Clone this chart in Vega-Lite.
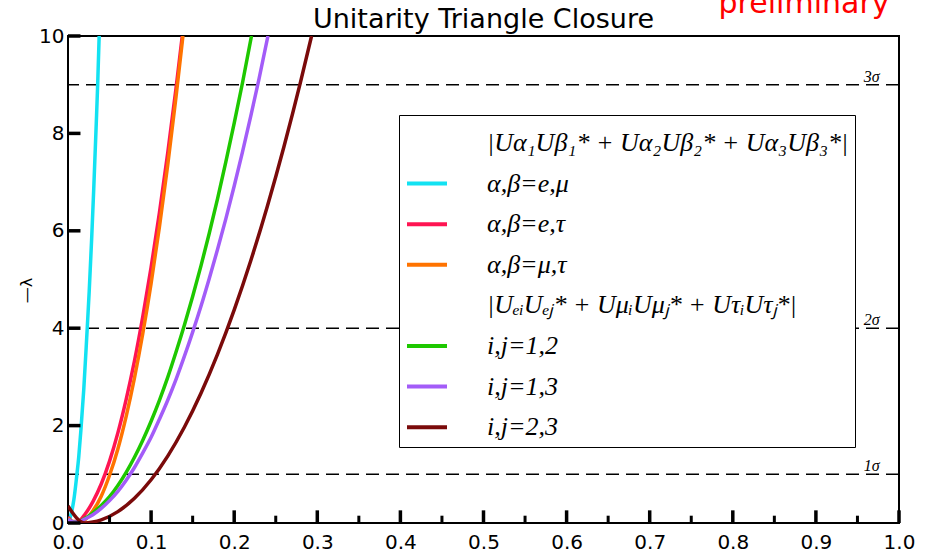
{
  "$schema": "https://vega.github.io/schema/vega-lite/v6.json",
  "width": 831,
  "height": 487,
  "autosize": {"type": "none"},
  "padding": {"left": 68, "top": 36, "right": 37, "bottom": 32},
  "background": "white",
  "title": {
    "text": "Unitarity Triangle Closure",
    "font": "DejaVu Sans",
    "fontSize": 27,
    "fontWeight": "normal",
    "color": "black",
    "frame": "group",
    "offset": 4,
    "dy": 49
  },
  "config": {
    "view": {"stroke": "black", "strokeWidth": 2},
    "axis": {
      "grid": false,
      "ticks": false,
      "domain": false,
      "labelColor": "black",
      "labelFont": "DejaVu Sans",
      "labelFontSize": 20,
      "labelFlush": false,
      "labelOverlap": false
    }
  },
  "datasets": {
    "levels": [
      {"y": 1, "label": "1σ"},
      {"y": 4, "label": "2σ"},
      {"y": 9, "label": "3σ"}
    ],
    "xMajor": [
      {"v": 0.1}, {"v": 0.2}, {"v": 0.3}, {"v": 0.4}, {"v": 0.5},
      {"v": 0.6}, {"v": 0.7}, {"v": 0.8}, {"v": 0.9}, {"v": 1.0}
    ],
    "xMinor": [
      {"v": 0.05}, {"v": 0.15}, {"v": 0.25}, {"v": 0.35}, {"v": 0.45},
      {"v": 0.55}, {"v": 0.65}, {"v": 0.75}, {"v": 0.85}, {"v": 0.95}
    ],
    "yMajor": [
      {"v": 0}, {"v": 2}, {"v": 4}, {"v": 6}, {"v": 8}, {"v": 10}
    ],
    "curves": [
      {"series": "α,β=e,μ", "x": 0.0, "y": 0.015},
      {"series": "α,β=e,μ", "x": 0.002, "y": 0.08},
      {"series": "α,β=e,μ", "x": 0.004, "y": 0.2},
      {"series": "α,β=e,μ", "x": 0.007, "y": 0.47},
      {"series": "α,β=e,μ", "x": 0.0104, "y": 0.95},
      {"series": "α,β=e,μ", "x": 0.013, "y": 1.37},
      {"series": "α,β=e,μ", "x": 0.0155, "y": 1.9},
      {"series": "α,β=e,μ", "x": 0.019, "y": 2.75},
      {"series": "α,β=e,μ", "x": 0.0225, "y": 3.8},
      {"series": "α,β=e,μ", "x": 0.0255, "y": 4.75},
      {"series": "α,β=e,μ", "x": 0.0285, "y": 5.85},
      {"series": "α,β=e,μ", "x": 0.031, "y": 6.87},
      {"series": "α,β=e,μ", "x": 0.034, "y": 8.2},
      {"series": "α,β=e,μ", "x": 0.0357, "y": 9.0},
      {"series": "α,β=e,μ", "x": 0.0375, "y": 10.0},

      {"series": "α,β=e,τ", "x": 0.0, "y": 0.12},
      {"series": "α,β=e,τ", "x": 0.006, "y": 0.03},
      {"series": "α,β=e,τ", "x": 0.012, "y": 0.03},
      {"series": "α,β=e,τ", "x": 0.02, "y": 0.17},
      {"series": "α,β=e,τ", "x": 0.03, "y": 0.44},
      {"series": "α,β=e,τ", "x": 0.04, "y": 0.8},
      {"series": "α,β=e,τ", "x": 0.05, "y": 1.27},
      {"series": "α,β=e,τ", "x": 0.06, "y": 1.85},
      {"series": "α,β=e,τ", "x": 0.07, "y": 2.54},
      {"series": "α,β=e,τ", "x": 0.08, "y": 3.33},
      {"series": "α,β=e,τ", "x": 0.09, "y": 4.24},
      {"series": "α,β=e,τ", "x": 0.1, "y": 5.25},
      {"series": "α,β=e,τ", "x": 0.11, "y": 6.37},
      {"series": "α,β=e,τ", "x": 0.12, "y": 7.6},
      {"series": "α,β=e,τ", "x": 0.13, "y": 8.93},
      {"series": "α,β=e,τ", "x": 0.1375, "y": 10.0},

      {"series": "α,β=μ,τ", "x": 0.0, "y": 0.1},
      {"series": "α,β=μ,τ", "x": 0.006, "y": 0.02},
      {"series": "α,β=μ,τ", "x": 0.012, "y": 0.01},
      {"series": "α,β=μ,τ", "x": 0.02, "y": 0.06},
      {"series": "α,β=μ,τ", "x": 0.03, "y": 0.25},
      {"series": "α,β=μ,τ", "x": 0.04, "y": 0.55},
      {"series": "α,β=μ,τ", "x": 0.05, "y": 0.98},
      {"series": "α,β=μ,τ", "x": 0.06, "y": 1.52},
      {"series": "α,β=μ,τ", "x": 0.07, "y": 2.19},
      {"series": "α,β=μ,τ", "x": 0.08, "y": 2.98},
      {"series": "α,β=μ,τ", "x": 0.09, "y": 3.89},
      {"series": "α,β=μ,τ", "x": 0.1, "y": 4.92},
      {"series": "α,β=μ,τ", "x": 0.11, "y": 6.08},
      {"series": "α,β=μ,τ", "x": 0.12, "y": 7.35},
      {"series": "α,β=μ,τ", "x": 0.13, "y": 8.75},
      {"series": "α,β=μ,τ", "x": 0.1383, "y": 10.0},

      {"series": "i,j=1,2", "x": 0.0, "y": 0.08},
      {"series": "i,j=1,2", "x": 0.006, "y": 0.02},
      {"series": "i,j=1,2", "x": 0.012, "y": 0.02},
      {"series": "i,j=1,2", "x": 0.02, "y": 0.09},
      {"series": "i,j=1,2", "x": 0.03, "y": 0.21},
      {"series": "i,j=1,2", "x": 0.04, "y": 0.36},
      {"series": "i,j=1,2", "x": 0.05, "y": 0.54},
      {"series": "i,j=1,2", "x": 0.06, "y": 0.77},
      {"series": "i,j=1,2", "x": 0.07, "y": 1.04},
      {"series": "i,j=1,2", "x": 0.08, "y": 1.35},
      {"series": "i,j=1,2", "x": 0.09, "y": 1.7},
      {"series": "i,j=1,2", "x": 0.1, "y": 2.09},
      {"series": "i,j=1,2", "x": 0.11, "y": 2.52},
      {"series": "i,j=1,2", "x": 0.12, "y": 2.99},
      {"series": "i,j=1,2", "x": 0.13, "y": 3.51},
      {"series": "i,j=1,2", "x": 0.14, "y": 4.06},
      {"series": "i,j=1,2", "x": 0.15, "y": 4.65},
      {"series": "i,j=1,2", "x": 0.16, "y": 5.28},
      {"series": "i,j=1,2", "x": 0.17, "y": 5.95},
      {"series": "i,j=1,2", "x": 0.18, "y": 6.66},
      {"series": "i,j=1,2", "x": 0.19, "y": 7.42},
      {"series": "i,j=1,2", "x": 0.2, "y": 8.21},
      {"series": "i,j=1,2", "x": 0.21, "y": 9.04},
      {"series": "i,j=1,2", "x": 0.2208, "y": 10.0},

      {"series": "i,j=1,3", "x": 0.0, "y": 0.08},
      {"series": "i,j=1,3", "x": 0.006, "y": 0.02},
      {"series": "i,j=1,3", "x": 0.012, "y": 0.02},
      {"series": "i,j=1,3", "x": 0.02, "y": 0.08},
      {"series": "i,j=1,3", "x": 0.03, "y": 0.17},
      {"series": "i,j=1,3", "x": 0.04, "y": 0.3},
      {"series": "i,j=1,3", "x": 0.05, "y": 0.46},
      {"series": "i,j=1,3", "x": 0.06, "y": 0.65},
      {"series": "i,j=1,3", "x": 0.07, "y": 0.88},
      {"series": "i,j=1,3", "x": 0.08, "y": 1.14},
      {"series": "i,j=1,3", "x": 0.09, "y": 1.44},
      {"series": "i,j=1,3", "x": 0.1, "y": 1.76},
      {"series": "i,j=1,3", "x": 0.11, "y": 2.13},
      {"series": "i,j=1,3", "x": 0.12, "y": 2.52},
      {"series": "i,j=1,3", "x": 0.13, "y": 2.95},
      {"series": "i,j=1,3", "x": 0.14, "y": 3.42},
      {"series": "i,j=1,3", "x": 0.15, "y": 3.92},
      {"series": "i,j=1,3", "x": 0.16, "y": 4.45},
      {"series": "i,j=1,3", "x": 0.17, "y": 5.02},
      {"series": "i,j=1,3", "x": 0.18, "y": 5.62},
      {"series": "i,j=1,3", "x": 0.19, "y": 6.25},
      {"series": "i,j=1,3", "x": 0.2, "y": 6.92},
      {"series": "i,j=1,3", "x": 0.21, "y": 7.62},
      {"series": "i,j=1,3", "x": 0.22, "y": 8.36},
      {"series": "i,j=1,3", "x": 0.23, "y": 9.13},
      {"series": "i,j=1,3", "x": 0.2406, "y": 10.0},

      {"series": "i,j=2,3", "x": 0.0, "y": 0.35},
      {"series": "i,j=2,3", "x": 0.005, "y": 0.22},
      {"series": "i,j=2,3", "x": 0.01, "y": 0.11},
      {"series": "i,j=2,3", "x": 0.015, "y": 0.03},
      {"series": "i,j=2,3", "x": 0.02, "y": 0.0},
      {"series": "i,j=2,3", "x": 0.03, "y": 0.02},
      {"series": "i,j=2,3", "x": 0.04, "y": 0.064},
      {"series": "i,j=2,3", "x": 0.06, "y": 0.233},
      {"series": "i,j=2,3", "x": 0.08, "y": 0.508},
      {"series": "i,j=2,3", "x": 0.1, "y": 0.888},
      {"series": "i,j=2,3", "x": 0.12, "y": 1.374},
      {"series": "i,j=2,3", "x": 0.14, "y": 1.966},
      {"series": "i,j=2,3", "x": 0.16, "y": 2.664},
      {"series": "i,j=2,3", "x": 0.18, "y": 3.467},
      {"series": "i,j=2,3", "x": 0.2, "y": 4.376},
      {"series": "i,j=2,3", "x": 0.22, "y": 5.391},
      {"series": "i,j=2,3", "x": 0.24, "y": 6.511},
      {"series": "i,j=2,3", "x": 0.26, "y": 7.737},
      {"series": "i,j=2,3", "x": 0.28, "y": 9.068},
      {"series": "i,j=2,3", "x": 0.2931, "y": 10.0}
    ]
  },
  "layer": [
    {
      "data": {"name": "levels"},
      "mark": {"type": "rule", "color": "black", "strokeWidth": 1.6, "strokeDash": [13, 7]},
      "encoding": {
        "y": {"field": "y", "type": "quantitative", "scale": {"domain": [0, 10]}}
      }
    },
    {
      "data": {"name": "levels"},
      "mark": {
        "type": "text",
        "font": "Liberation Serif",
        "fontStyle": "italic",
        "fontSize": 16,
        "color": "black",
        "align": "center",
        "baseline": "alphabetic",
        "dy": -3
      },
      "encoding": {
        "x": {"datum": 0.967, "type": "quantitative", "scale": {"domain": [0, 1]}},
        "y": {"field": "y", "type": "quantitative", "scale": {"domain": [0, 10]}},
        "text": {"field": "label"}
      }
    },
    {
      "data": {"name": "curves"},
      "mark": {"type": "line", "interpolate": "monotone", "strokeWidth": 3.5, "clip": true},
      "encoding": {
        "x": {
          "field": "x",
          "type": "quantitative",
          "scale": {"domain": [0, 1], "nice": false},
          "axis": {
            "title": null,
            "values": [0, 0.1, 0.2, 0.3, 0.4, 0.5, 0.6, 0.7, 0.8, 0.9, 1.0],
            "format": ".1f",
            "labelPadding": 9
          }
        },
        "y": {
          "field": "y",
          "type": "quantitative",
          "scale": {"domain": [0, 10], "nice": false},
          "axis": {
            "title": "—λ",
            "titleFont": "DejaVu Sans",
            "titleFontSize": 16,
            "titleFontWeight": "normal",
            "titleColor": "black",
            "titlePadding": 4,
            "titleY": 254,
            "values": [0, 2, 4, 6, 8, 10],
            "labelPadding": 4
          }
        },
        "color": {
          "field": "series",
          "type": "nominal",
          "scale": {
            "domain": [
              "|Uα₁Uβ₁* + Uα₂Uβ₂* + Uα₃Uβ₃*|",
              "α,β=e,μ",
              "α,β=e,τ",
              "α,β=μ,τ",
              "|UₑᵢUₑⱼ* + UμᵢUμⱼ* + UτᵢUτⱼ*|",
              "i,j=1,2",
              "i,j=1,3",
              "i,j=2,3"
            ],
            "range": [
              "rgba(0,0,0,0)",
              "#12e2f2",
              "#ff1452",
              "#ff7300",
              "rgba(0,0,0,0)",
              "#1ec800",
              "#a35cf8",
              "#7a0a0a"
            ]
          },
          "legend": {
            "orient": "none",
            "legendX": 331,
            "legendY": 79,
            "title": null,
            "symbolType": "stroke",
            "symbolStrokeWidth": 4,
            "symbolSize": 1600,
            "labelFont": "Liberation Serif",
            "labelFontStyle": "italic",
            "labelFontSize": 26,
            "labelColor": "black",
            "labelOffset": 38,
            "labelLimit": 600,
            "rowPadding": 5.6,
            "padding": 6,
            "strokeColor": "black",
            "fillColor": "white",
            "cornerRadius": 0
          }
        }
      }
    },
    {
      "data": {"name": "xMajor"},
      "mark": {"type": "rule", "color": "black", "strokeWidth": 3.5, "strokeCap": "butt"},
      "encoding": {
        "x": {"field": "v", "type": "quantitative", "scale": {"domain": [0, 1]}},
        "y": {"datum": 0, "type": "quantitative", "scale": {"domain": [0, 10]}},
        "y2": {"datum": 0.26}
      }
    },
    {
      "data": {"name": "xMinor"},
      "mark": {"type": "rule", "color": "black", "strokeWidth": 3, "strokeCap": "butt"},
      "encoding": {
        "x": {"field": "v", "type": "quantitative", "scale": {"domain": [0, 1]}},
        "y": {"datum": 0, "type": "quantitative", "scale": {"domain": [0, 10]}},
        "y2": {"datum": 0.15}
      }
    },
    {
      "data": {"name": "yMajor"},
      "mark": {"type": "rule", "color": "black", "strokeWidth": 3.5, "strokeCap": "butt"},
      "encoding": {
        "y": {"field": "v", "type": "quantitative", "scale": {"domain": [0, 10]}},
        "x": {"datum": 0, "type": "quantitative", "scale": {"domain": [0, 1]}},
        "x2": {"datum": 0.015}
      }
    },
    {
      "data": {"values": [{"note": "preliminary"}]},
      "mark": {
        "type": "text",
        "font": "DejaVu Sans",
        "fontSize": 30,
        "color": "#ff0000",
        "align": "center",
        "baseline": "alphabetic"
      },
      "encoding": {
        "x": {"datum": 0.8857, "type": "quantitative", "scale": {"domain": [0, 1]}},
        "y": {"datum": 10.467, "type": "quantitative", "scale": {"domain": [0, 10]}},
        "text": {"field": "note"}
      }
    }
  ]
}
